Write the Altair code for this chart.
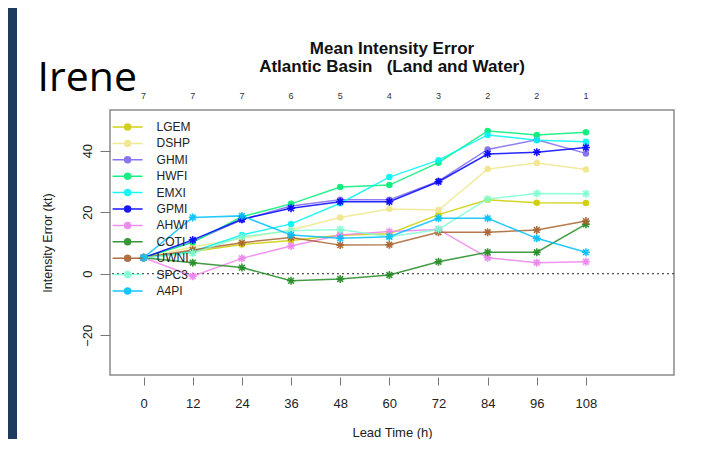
import altair as alt
import pandas as pd

# ---------------- data ----------------
hours = [0, 12, 24, 36, 48, 60, 72, 84, 96, 108]
counts = [7, 7, 7, 6, 5, 4, 3, 2, 2, 1]

models = ["LGEM", "DSHP", "GHMI", "HWFI", "EMXI", "GPMI",
          "AHWI", "COTI", "UWNI", "SPC3", "A4PI"]
colors = ["#CDCD00", "#F0E68C", "#7B68EE", "#00EE76", "#00F5F5", "#0000FF",
          "#EE82EE", "#228B22", "#A8612F", "#7FFFD4", "#00BFFF"]
markers = ["circle", "circle", "circle", "circle", "circle",
           "star", "star", "star", "star", "star", "star"]

lgem = [5.2, 7.2, 9.5, 10.8, 12.5, 13.0, 19.2, 24.0, 23.1, 23.0]
dshp = [5.2, 8.7, 11.5, 14.2, 18.3, 21.0, 20.7, 34.0, 36.0, 33.9]
ghmi = [5.2, 10.5, 17.5, 22.0, 24.0, 24.0, 30.1, 40.4, 43.5, 39.1]
hwfi = [5.2, 10.2, 18.5, 22.7, 28.2, 28.8, 36.1, 46.4, 45.1, 46.0]
emxi = [5.2, 7.2, 12.6, 16.2, 22.9, 31.4, 36.9, 45.1, 43.4, 42.9]
gpmi = [5.2, 11.0, 17.7, 21.3, 23.4, 23.4, 29.9, 38.9, 39.5, 41.0]
ahwi = [5.2, -0.8, 5.0, 9.0, 12.6, 13.7, 14.4, 5.2, 3.6, 3.9]
coti = [5.2, 3.6, 2.0, -2.3, -1.7, -0.4, 3.9, 7.0, 7.0, 16.1]
uwni = [5.2, 7.7, 10.1, 11.8, 9.3, 9.4, 13.5, 13.5, 14.2, 17.1]
spc3 = [5.2, 6.7, 12.0, 14.0, 14.4, 12.0, 14.4, 24.3, 26.1, 26.0]
a4pi = [5.2, 18.3, 18.8, 12.6, 11.5, 12.0, 18.0, 18.0, 11.5, 7.0]

series = {"LGEM": lgem, "DSHP": dshp, "GHMI": ghmi, "HWFI": hwfi, "EMXI": emxi,
          "GPMI": gpmi, "AHWI": ahwi, "COTI": coti, "UWNI": uwni, "SPC3": spc3,
          "A4PI": a4pi}

rows = []
for m, mk, c in zip(models, markers, colors):
    for h, v in zip(hours, series[m]):
        rows.append({"model": m, "hour": h, "err": v, "marker": mk, "col": c})
df = pd.DataFrame(rows)
count_df = pd.DataFrame({"hour": hours, "n": [str(c) for c in counts]})

# ---------------- layout ----------------
W, H = 564, 265
PAD = {"left": 102, "top": 102, "right": 16, "bottom": 64}
FONT = "Liberation Sans"

xscale = alt.Scale(domain=[-8.2, 129.5], nice=False, zero=False)
yscale = alt.Scale(domain=[-32.9, 53.2], nice=False, zero=False)
cscale = alt.Scale(domain=models, range=colors)

LEG_PATH = "M-3.75,0L3.75,0M-0.75,0A0.75,0.75 0 1,1 0.75,0A0.75,0.75 0 1,1 -0.75,0Z"
STAR = "M-1,0L1,0M0,-1L0,1M-0.72,-0.72L0.72,0.72M-0.72,0.72L0.72,-0.72"

xax = alt.Axis(values=hours, title="Lead Time (h)", domain=False, grid=False,
               tickSize=8, tickColor="#777", tickWidth=1, offset=2,
               labelFont=FONT, labelFontSize=13, labelColor="#222", labelPadding=12,
               titleFont=FONT, titleFontSize=13, titleFontWeight="normal",
               titleColor="#222", titlePadding=16)
yax = alt.Axis(values=[-20, 0, 20, 40], title="Intensity Error (kt)", domain=False,
               grid=False, tickSize=10, tickColor="#777", tickWidth=1,
               labelAngle=270, labelAlign="center", labelBaseline="bottom",
               labelFont=FONT, labelFontSize=13, labelColor="#222", labelPadding=6,
               titleFont=FONT, titleFontSize=12.5, titleFontWeight="normal",
               titleColor="#222", titlePadding=27)

legend = alt.Legend(title=None, orient="none", legendX=11.6, legendY=11.0,
                    symbolType=LEG_PATH, symbolSize=64, symbolStrokeWidth=1.5,
                    symbolOpacity=0.9, labelFont=FONT, labelFontSize=12,
                    labelColor="#222", labelOffset=23, rowPadding=4.4, padding=0)

X = alt.X("hour:Q", scale=xscale, axis=xax)
Y = alt.Y("err:Q", scale=yscale, axis=yax)

base = alt.Chart(df)

lines = base.mark_line(strokeWidth=1.5, opacity=0.85).encode(
    x=X, y=Y,
    color=alt.Color("col:N", scale=None),
    detail="model:N",
    order="hour:Q",
)

points = base.mark_point(filled=True, opacity=0.9, strokeWidth=1.6).encode(
    x=X, y=Y,
    fill=alt.Fill("model:N", scale=cscale, legend=legend),
    stroke=alt.Stroke("model:N", scale=cscale, legend=legend),
    shape=alt.Shape("marker:N", scale=alt.Scale(domain=["circle", "star"],
                                                range=["circle", STAR]), legend=None),
    size=alt.Size("marker:N", scale=alt.Scale(domain=["circle", "star"],
                                              range=[24, 64]), legend=None),
)

zero_rule = alt.Chart(pd.DataFrame({"z": [0]})).mark_rule(
    color="#222", strokeDash=[2, 3], strokeWidth=1).encode(
    y=alt.Y("z:Q", scale=yscale, axis=yax))

count_text = alt.Chart(count_df).mark_text(
    font=FONT, fontSize=9, color="#333", baseline="middle").encode(
    x=alt.X("hour:Q", scale=xscale, axis=xax),
    y=alt.value(-14),
    text="n:N")

title_text = alt.Chart(pd.DataFrame({"t": [0]})).mark_text(
    font=FONT, fontSize=17, fontWeight="bold", color="#111", align="center",
    baseline="alphabetic", lineHeight=18.5).encode(
    x=alt.value(W / 2), y=alt.value(-56.5),
    text=alt.value(["Mean Intensity Error",
                    "Atlantic Basin\u00a0\u00a0\u00a0(Land and Water)"]))

irene = alt.Chart(pd.DataFrame({"t": ["Irene"]})).mark_text(
    font="Open Sans", fontSize=41, color="#000", align="left",
    baseline="alphabetic").encode(
    x=alt.value(-72.4), y=alt.value(-19), text="t:N")

strip = alt.Chart(pd.DataFrame({"t": [0]})).mark_rect(color="#1F3A5F").encode(
    x=alt.value(-PAD["left"]), x2=alt.value(-PAD["left"] + 9),
    y=alt.value(-PAD["top"]), y2=alt.value(H + PAD["bottom"]))

chart = alt.layer(strip, zero_rule, lines, points, count_text, title_text, irene).properties(
    width=W, height=H,
    autosize=alt.AutoSizeParams(type="none"),
    padding=PAD,
    background="white",
).configure_view(stroke="#8a8a8a", strokeWidth=1.5)

chart.save("out.html", embed_options={"renderer": "svg", "actions": False})
